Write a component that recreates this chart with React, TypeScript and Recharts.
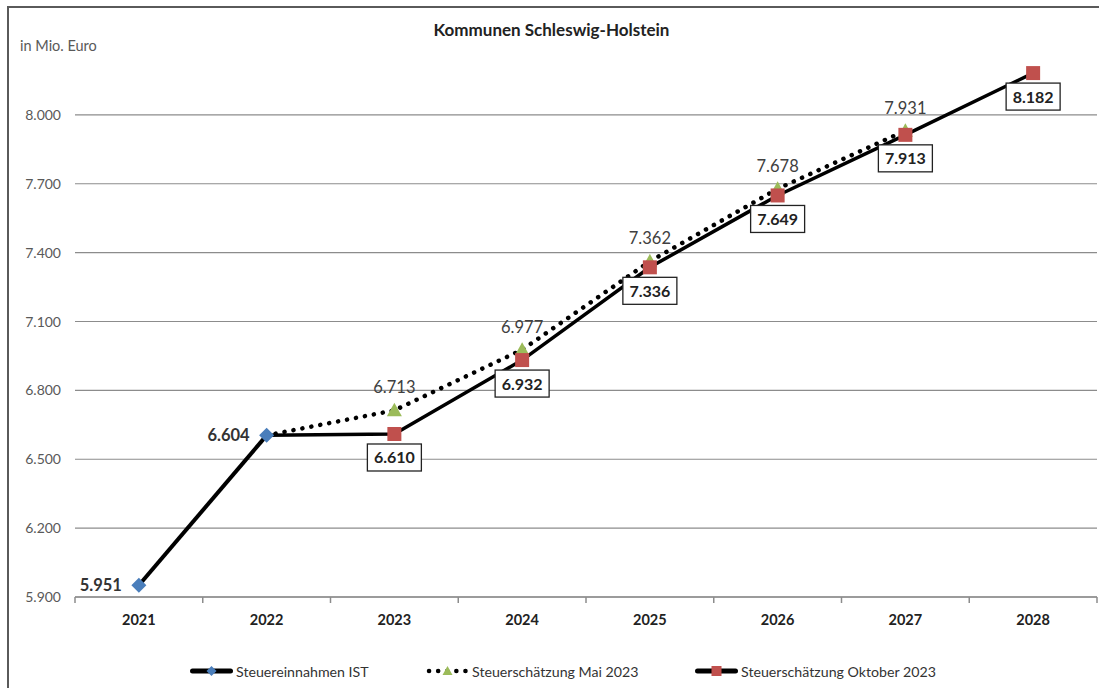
import React from 'react';
import { LineChart, Line, XAxis, YAxis, CartesianGrid, LabelList } from 'recharts';

const years = ['2021', '2022', '2023', '2024', '2025', '2026', '2027', '2028'];
const istValues = [5951, 6604, null, null, null, null, null, null];
const maiValues = [null, 6604, 6713, 6977, 7362, 7678, 7931, null];
const oktValues = [null, 6604, 6610, 6932, 7336, 7649, 7913, 8182];
const yTicks = [5900, 6200, 6500, 6800, 7100, 7400, 7700, 8000];
const forecastStart = '2023';

const seriesNames = {
  ist: 'Steuereinnahmen IST',
  mai: 'Steuerschätzung Mai 2023',
  okt: 'Steuerschätzung Oktober 2023',
};

const data = years.map((y, i) => ({ year: y, ist: istValues[i], mai: maiValues[i], okt: oktValues[i] }));

const FONT = 'Lato, "Open Sans", sans-serif';
const W = 1099;
const H = 688;
const PLOT_LEFT = 75;
const PLOT_RIGHT = 1097;
const PLOT_TOP = 46;
const PLOT_BOTTOM = 597;
const XAXIS_H = 30;
const BAND = (PLOT_RIGHT - PLOT_LEFT) / years.length;

const fmt = (v: number) => {
  const t = Math.floor(v / 1000);
  const r = String(Math.round(v % 1000)).padStart(3, '0');
  return `${t}.${r}`;
};

const isForecast = (year: string) => year >= forecastStart;

const BLUE = '#4a7ebb';
const GREEN = '#9bbb59';
const RED = '#c0504d';

const Diamond = (props: any) => {
  const { cx, cy } = props;
  if (cx == null || cy == null) return <g key={props.key} />;
  const s = 7.5;
  return (
    <path
      key={props.key}
      d={`M${cx},${cy - s} L${cx + s},${cy} L${cx},${cy + s} L${cx - s},${cy} Z`}
      fill={BLUE}
    />
  );
};

const Triangle = (props: any) => {
  const { cx, cy, payload } = props;
  if (cx == null || cy == null || !payload || !isForecast(payload.year)) return <g key={props.key} />;
  const s = 7.5;
  return (
    <path
      key={props.key}
      d={`M${cx},${cy - s} L${cx + s},${cy + s * 0.8} L${cx - s},${cy + s * 0.8} Z`}
      fill={GREEN}
    />
  );
};

const Square = (props: any) => {
  const { cx, cy, payload } = props;
  if (cx == null || cy == null || !payload || !isForecast(payload.year)) return <g key={props.key} />;
  const s = 7;
  return <rect key={props.key} x={cx - s} y={cy - s} width={2 * s} height={2 * s} fill={RED} />;
};

const IstLabel = (props: any) => {
  const { x, y, value } = props;
  if (value == null) return null;
  return (
    <text x={x - 17} y={y + 6} textAnchor="end" fontFamily={FONT} fontSize={16.5} fontWeight={700} fill="#333">
      {fmt(value)}
    </text>
  );
};

const MaiLabel = (props: any) => {
  const { x, y, value, index } = props;
  if (value == null || !isForecast(years[index])) return null;
  return (
    <text x={x} y={y - 17} textAnchor="middle" fontFamily={FONT} fontSize={16.5} fill="#404040">
      {fmt(value)}
    </text>
  );
};

const OktLabel = (props: any) => {
  const { x, y, value, index } = props;
  if (value == null || !isForecast(years[index])) return null;
  const bw = 54;
  const bh = 27;
  return (
    <g>
      <rect x={x - bw / 2} y={y + 10} width={bw} height={bh} fill="#fff" stroke="#222" strokeWidth={1.3} />
      <text x={x} y={y + 29.5} textAnchor="middle" fontFamily={FONT} fontSize={16} fontWeight={700} fill="#222">
        {fmt(value)}
      </text>
    </g>
  );
};

const XTick = (props: any) => {
  const { x, y, payload, index } = props;
  const last = index === years.length - 1;
  return (
    <g>
      <line x1={x - BAND / 2} y1={y} x2={x - BAND / 2} y2={y + 6} stroke="#8c8c8c" strokeWidth={1.5} />
      {last && <line x1={x + BAND / 2} y1={y} x2={x + BAND / 2} y2={y + 6} stroke="#8c8c8c" strokeWidth={1.5} />}
      <text x={x} y={y + 28} textAnchor="middle" fontFamily={FONT} fontSize={14.5} fontWeight={700} fill="#222">
        {payload.value}
      </text>
    </g>
  );
};

const YTick = (props: any) => {
  const { y, payload } = props;
  return (
    <text x={61} y={y + 5} textAnchor="end" fontFamily={FONT} fontSize={14} fill="#595959">
      {fmt(payload.value)}
    </text>
  );
};

const LegendSymbol = ({ kind }: { kind: 'ist' | 'mai' | 'okt' }) => (
  <svg width={43} height={14} style={{ display: 'block' }}>
    {kind === 'mai' ? (
      <line x1={3} y1={7} x2={40} y2={7} stroke="#000" strokeWidth={4.5} strokeDasharray="0.1 9" strokeLinecap="round" />
    ) : (
      <line x1={2.5} y1={7} x2={40.5} y2={7} stroke="#000" strokeWidth={5} strokeLinecap="round" />
    )}
    {kind === 'ist' && <path d="M21.5,2 L26.5,7 L21.5,12 L16.5,7 Z" fill={BLUE} />}
    {kind === 'mai' && <path d="M21.5,2 L26.5,11 L16.5,11 Z" fill={GREEN} />}
    {kind === 'okt' && <rect x={16.5} y={2} width={10} height={10} fill={RED} />}
  </svg>
);

const legendItems: { kind: 'ist' | 'mai' | 'okt'; left: number }[] = [
  { kind: 'ist', left: 190 },
  { kind: 'mai', left: 426 },
  { kind: 'okt', left: 695 },
];

export default function App() {
  return (
    <div style={{ position: 'fixed', left: 0, top: 0, width: W, height: H, overflow: 'hidden', background: '#fff' }}>
      <div
        style={{
          position: 'absolute',
          left: 7,
          top: 6,
          width: 1200,
          height: 800,
          border: '2px solid #5a5a5a',
          boxSizing: 'border-box',
        }}
      />
      <div
        style={{
          position: 'absolute',
          left: 0,
          width: W,
          top: 19,
          textAlign: 'center',
          fontFamily: FONT,
          fontWeight: 700,
          fontSize: 17,
          color: '#222',
          paddingLeft: 2,
        }}
      >
        Kommunen Schleswig-Holstein
      </div>
      <div style={{ position: 'absolute', left: 20, top: 37, fontFamily: FONT, fontSize: 14.5, color: '#595959' }}>
        in Mio. Euro
      </div>
      <div style={{ position: 'absolute', left: 0, top: 0 }}>
        <LineChart
          width={W}
          height={H}
          data={data}
          margin={{ top: PLOT_TOP, right: W - PLOT_RIGHT, bottom: H - PLOT_BOTTOM - XAXIS_H, left: 0 }}
        >
          <CartesianGrid horizontal vertical={false} horizontalValues={yTicks} stroke="#8c8c8c" strokeWidth={1.2} />
          <XAxis
            dataKey="year"
            height={XAXIS_H}
            padding={{ left: BAND / 2, right: BAND / 2 }}
            tick={<XTick />}
            tickLine={false}
            tickSize={0}
            tickMargin={0}
            axisLine={{ stroke: '#8c8c8c', strokeWidth: 1.5 }}
            interval={0}
          />
          <YAxis
            width={PLOT_LEFT}
            domain={[5900, 8300]}
            ticks={yTicks}
            tick={<YTick />}
            axisLine={false}
            tickLine={false}
            allowDataOverflow
          />
          <Line
            dataKey="ist"
            name={seriesNames.ist}
            stroke="#000"
            strokeWidth={4}
            dot={<Diamond />}
            activeDot={false}
            isAnimationActive={false}
          >
            <LabelList dataKey="ist" content={<IstLabel />} />
          </Line>
          <Line
            dataKey="mai"
            name={seriesNames.mai}
            stroke="#000"
            strokeWidth={4.5}
            strokeDasharray="0.1 9"
            strokeLinecap="round"
            dot={<Triangle />}
            activeDot={false}
            isAnimationActive={false}
          >
            <LabelList dataKey="mai" content={<MaiLabel />} />
          </Line>
          <Line
            dataKey="okt"
            name={seriesNames.okt}
            stroke="#000"
            strokeWidth={3.5}
            dot={<Square />}
            activeDot={false}
            isAnimationActive={false}
          >
            <LabelList dataKey="okt" content={<OktLabel />} />
          </Line>
        </LineChart>
      </div>
      {legendItems.map((it) => (
        <div
          key={it.kind}
          style={{
            position: 'absolute',
            left: it.left,
            top: 660,
            height: 22,
            display: 'flex',
            alignItems: 'center',
            fontFamily: FONT,
            fontSize: 14.2,
            color: '#333',
            whiteSpace: 'nowrap',
          }}
        >
          <LegendSymbol kind={it.kind} />
          <span style={{ marginLeft: 3 }}>{seriesNames[it.kind]}</span>
        </div>
      ))}
    </div>
  );
}
